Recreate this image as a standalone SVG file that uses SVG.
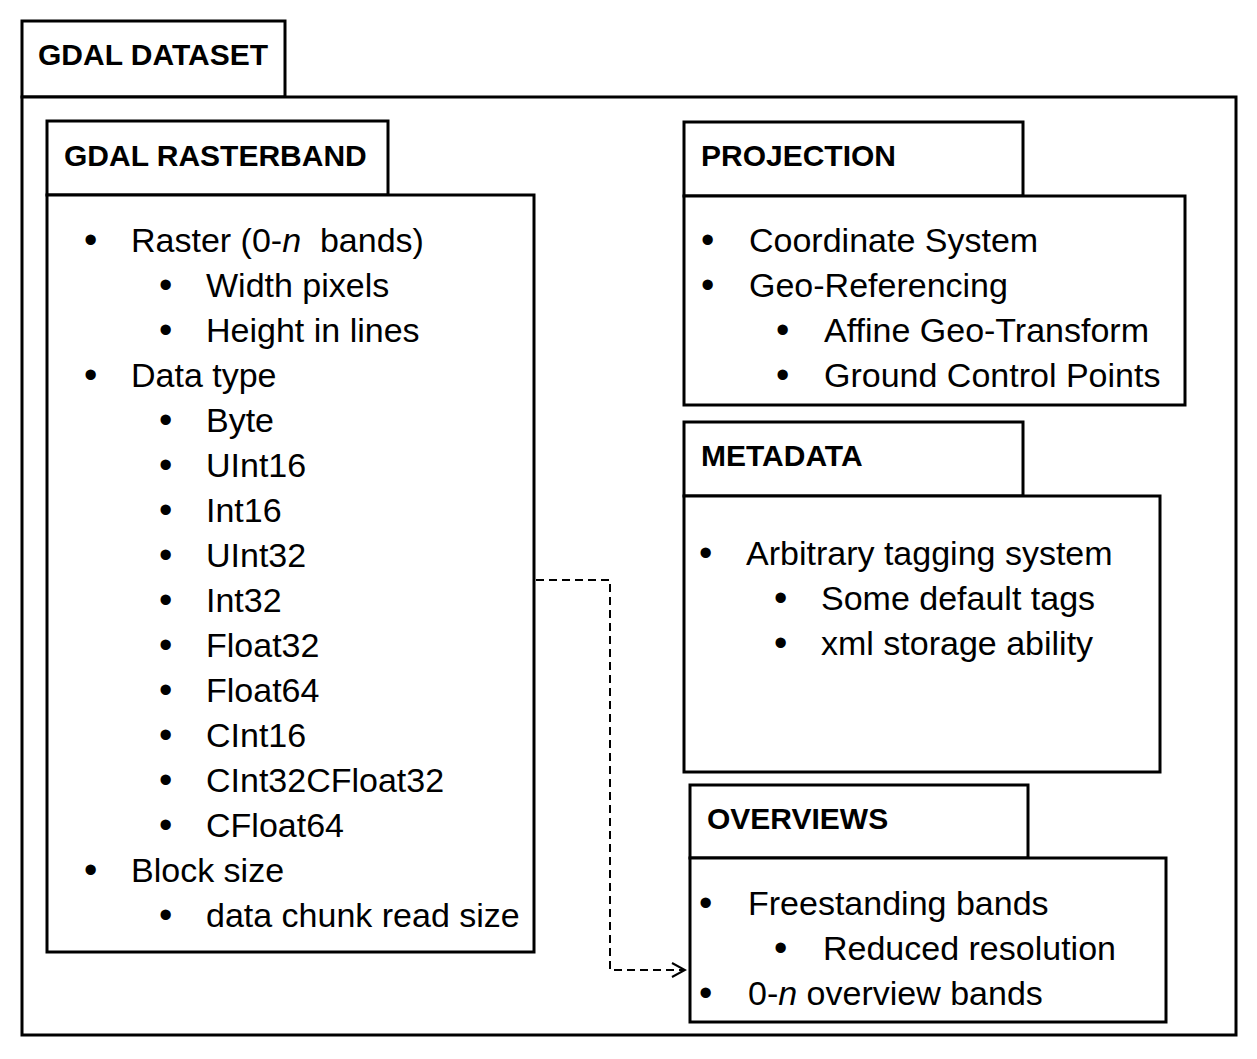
<svg xmlns="http://www.w3.org/2000/svg" width="1257" height="1059" viewBox="0 0 1257 1059">
<style>
.box{fill:#fff;stroke:#000;stroke-width:3}
.title{font-family:"Liberation Sans",Arial,sans-serif;font-weight:bold;font-size:30px;fill:#000}
.t{font-family:"Liberation Sans",Arial,sans-serif;font-size:34px;fill:#000}
.b{font-family:"Liberation Sans",Arial,sans-serif;font-size:38px;fill:#000}
.conn{fill:none;stroke:#000;stroke-width:2;stroke-dasharray:8 5}
</style>
<defs>
<marker id="open" markerWidth="16" markerHeight="16" refX="14" refY="8" orient="auto" markerUnits="userSpaceOnUse">
<path d="M1,1 L14,8 L1,15" fill="none" stroke="#000" stroke-width="2"/>
</marker>
</defs>
<rect width="1257" height="1059" fill="#fff"/>
<g id="dataset">
<rect class="box" x="22" y="21" width="263" height="76"/>
<rect class="box" x="22" y="97" width="1214" height="938"/>
<text class="title" x="38" y="65">GDAL DATASET</text>
</g>
<g id="rasterband">
<rect class="box" x="47" y="121" width="341" height="74"/>
<rect class="box" x="47" y="195" width="487" height="757"/>
<text class="title" x="64" y="166">GDAL RASTERBAND</text>
<g class="b">
<text x="84" y="253">•</text>
<text x="159" y="298">•</text>
<text x="159" y="343">•</text>
<text x="84" y="388">•</text>
<text x="159" y="433">•</text>
<text x="159" y="478">•</text>
<text x="159" y="523">•</text>
<text x="159" y="568">•</text>
<text x="159" y="613">•</text>
<text x="159" y="658">•</text>
<text x="159" y="703">•</text>
<text x="159" y="748">•</text>
<text x="159" y="793">•</text>
<text x="159" y="838">•</text>
<text x="84" y="883">•</text>
<text x="159" y="928">•</text>
</g>
<g class="t">
<text x="131" y="252" xml:space="preserve">Raster (0-<tspan font-style="italic">n</tspan>  bands)</text>
<text x="206" y="297">Width pixels</text>
<text x="206" y="342">Height in lines</text>
<text x="131" y="387">Data type</text>
<text x="206" y="432">Byte</text>
<text x="206" y="477">UInt16</text>
<text x="206" y="522">Int16</text>
<text x="206" y="567">UInt32</text>
<text x="206" y="612">Int32</text>
<text x="206" y="657">Float32</text>
<text x="206" y="702">Float64</text>
<text x="206" y="747">CInt16</text>
<text x="206" y="792">CInt32CFloat32</text>
<text x="206" y="837">CFloat64</text>
<text x="131" y="882">Block size</text>
<text x="206" y="927">data chunk read size</text>
</g>
</g>
<g id="projection">
<rect class="box" x="684" y="122" width="339" height="74"/>
<rect class="box" x="684" y="196" width="501" height="209"/>
<text class="title" x="701" y="166">PROJECTION</text>
<g class="b">
<text x="701" y="253">•</text>
<text x="701" y="298">•</text>
<text x="776" y="343">•</text>
<text x="776" y="388">•</text>
</g>
<g class="t">
<text x="749" y="252">Coordinate System</text>
<text x="749" y="297">Geo-Referencing</text>
<text x="824" y="342">Affine Geo-Transform</text>
<text x="824" y="387">Ground Control Points</text>
</g>
</g>
<g id="metadata">
<rect class="box" x="684" y="422" width="339" height="74"/>
<rect class="box" x="684" y="496" width="476" height="276"/>
<text class="title" x="701" y="466">METADATA</text>
<g class="b">
<text x="699" y="566">•</text>
<text x="774" y="611">•</text>
<text x="774" y="656">•</text>
</g>
<g class="t">
<text x="746" y="565">Arbitrary tagging system</text>
<text x="821" y="610">Some default tags</text>
<text x="821" y="655">xml storage ability</text>
</g>
</g>
<g id="overviews">
<rect class="box" x="690" y="785" width="338" height="73"/>
<rect class="box" x="690" y="858" width="476" height="164"/>
<text class="title" x="707" y="829">OVERVIEWS</text>
<g class="b">
<text x="699" y="916">•</text>
<text x="774" y="961">•</text>
<text x="699" y="1006">•</text>
</g>
<g class="t">
<text x="748" y="915">Freestanding bands</text>
<text x="823" y="960">Reduced resolution</text>
<text x="748" y="1005">0-<tspan font-style="italic">n</tspan> overview bands</text>
</g>
</g>
<g id="connectors">
<path class="conn" d="M536,580 H610 V970 H685" marker-end="url(#open)"/>
</g>
</svg>
